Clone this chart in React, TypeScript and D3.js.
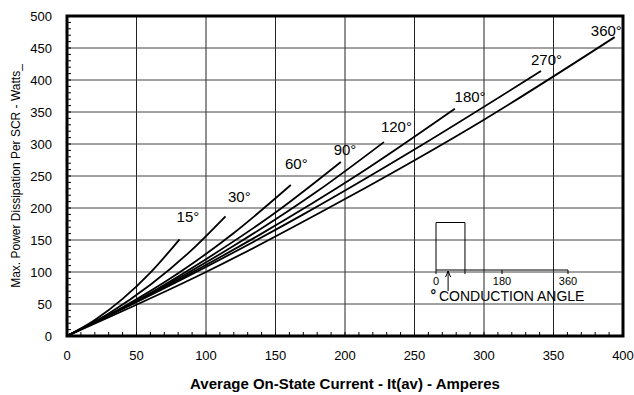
import React from "react";
import * as d3 from "d3";

// conduction angles (deg) and the curve points [current A, power W]
const angles = [15, 30, 60, 90, 120, 180, 270, 360];
const curve15 = [[0, 0], [20, 25], [40, 58], [60, 99], [81, 151]];
const curve30 = [[0, 0], [30, 35], [60, 80], [90, 135], [114, 187]];
const curve60 = [[0, 0], [40, 45], [80, 98], [120, 161], [161, 236]];
const curve90 = [[0, 0], [50, 55], [100, 120], [150, 193], [197, 272]];
const curve120 = [[0, 0], [60, 66], [120, 141], [180, 226], [228, 303]];
const curve180 = [[0, 0], [70, 76], [140, 160], [210, 253], [279, 355]];
const curve270 = [[0, 0], [85, 91], [170, 190], [255, 298], [341, 414]];
const curve360 = [[0, 0], [100, 100], [200, 214], [300, 338], [394, 467]];
const curves = [curve15, curve30, curve60, curve90, curve120, curve180, curve270, curve360];
// where each angle label sits, in data units
const labelAt = [[87, 178], [124, 209], [165, 261], [200, 283], [237, 319], [290, 366], [345, 424], [388, 468]];

const xTicks = [0, 50, 100, 150, 200, 250, 300, 350, 400];
const yTicks = [0, 50, 100, 150, 200, 250, 300, 350, 400, 450, 500];
const insetTicks = [0, 180, 360];
const pulseWidth = 79; // deg
const arrowAt = 33; // deg

const W = 634, H = 395;
const margin = {left: 67, right: 11, top: 16, bottom: 59};
const font = "'Liberation Sans', Arial, sans-serif";

export default function App() {
  const x = d3.scaleLinear().domain([0, 400]).range([margin.left, W - margin.right]);
  const y = d3.scaleLinear().domain([0, 500]).range([H - margin.bottom, margin.top]);
  const line = d3.line<number[]>()
    .x(d => x(d[0]))
    .y(d => y(d[1]))
    .curve(d3.curveMonotoneX);

  const minorX = d3.range(0, 401, 10);
  const minorY = d3.range(0, 501, 10);

  // inset: conduction angle sketch
  const ax = d3.scaleLinear().domain([0, 360]).range([436, 568]);
  const insetBase = 270;
  const insetTop = 222.5;

  const x0 = x(0), x1 = x(400), y0 = y(0), y1 = y(500);

  return (
    <svg width={W} height={H} style={{position: "absolute", left: 0, top: 0, background: "#fff"}}
      fontFamily={font}>
      {/* grid */}
      {xTicks.slice(1, -1).map(t => (
        <line key={"gx" + t} x1={x(t)} x2={x(t)} y1={y0} y2={y1} stroke="#222" strokeWidth={1} />
      ))}
      {yTicks.slice(1, -1).map(t => (
        <line key={"gy" + t} x1={x0} x2={x1} y1={y(t)} y2={y(t)} stroke="#444" strokeWidth={1} />
      ))}

      {/* minor ticks inside */}
      {minorX.map(t => (
        <line key={"mx" + t} x1={x(t)} x2={x(t)} y1={y0} y2={y0 - 4} stroke="#000" strokeWidth={1} />
      ))}
      {minorY.map(t => (
        <line key={"my" + t} x1={x0} x2={x0 + 4} y1={y(t)} y2={y(t)} stroke="#000" strokeWidth={1} />
      ))}

      {/* curves */}
      {curves.map((c, i) => (
        <path key={"c" + i} d={line(c) || ""} fill="none" stroke="#000" strokeWidth={1.8} />
      ))}
      {angles.map((a, i) => (
        <text key={"l" + a} x={x(labelAt[i][0])} y={y(labelAt[i][1])} textAnchor="middle"
          fontSize={15} fill="#000">{a}°</text>
      ))}

      {/* inset */}
      <line x1={ax(0)} x2={ax(360)} y1={insetBase} y2={insetBase} stroke="#000" strokeWidth={1} />
      <path d={`M${ax(0)},${insetBase}V${insetTop}H${ax(pulseWidth)}V${insetBase}`}
        fill="none" stroke="#000" strokeWidth={1} />
      {[0, pulseWidth, 180, 360].map(t => (
        <line key={"it" + t} x1={ax(t)} x2={ax(t)} y1={insetBase} y2={insetBase + 4} stroke="#000" strokeWidth={1} />
      ))}
      {insetTicks.map(t => (
        <text key={"il" + t} x={ax(t)} y={284.5} textAnchor="middle" fontSize={11} fill="#000">{t}</text>
      ))}
      <line x1={ax(arrowAt)} x2={ax(arrowAt)} y1={291} y2={insetBase + 1} stroke="#000" strokeWidth={1} />
      <path d={`M${ax(arrowAt) - 2.5},${insetBase + 7}L${ax(arrowAt)},${insetBase + 1}L${ax(arrowAt) + 2.5},${insetBase + 7}`}
        fill="none" stroke="#000" strokeWidth={1} />
      <text x={430.5} y={300.5} fontSize={14} fill="#000">
        <tspan fontWeight="bold" dy="-1">°</tspan>
        <tspan x={439} y={300.5}>CONDUCTION ANGLE</tspan>
      </text>

      {/* frame */}
      <rect x={x0} y={y1} width={x1 - x0} height={y0 - y1} fill="none" stroke="#000" strokeWidth={3} />

      {/* tick labels */}
      {xTicks.map(t => (
        <text key={"xl" + t} x={x(t)} y={360} textAnchor="middle" fontSize={13} fill="#000">{t}</text>
      ))}
      {yTicks.map(t => (
        <text key={"yl" + t} x={52} y={y(t)} dy="0.35em" textAnchor="end" fontSize={13} fill="#000">{t}</text>
      ))}

      {/* axis titles */}
      <text x={(x0 + x1) / 2} y={389} textAnchor="middle" fontSize={15} fontWeight="bold" fill="#000">
        Average On-State Current - It(av) - Amperes
      </text>
      <text transform={`translate(20, ${(y0 + y1) / 2}) rotate(-90)`} textAnchor="middle" fontSize={12} fill="#000">
        Max. Power Dissipation Per SCR - Watts_
      </text>
    </svg>
  );
}
